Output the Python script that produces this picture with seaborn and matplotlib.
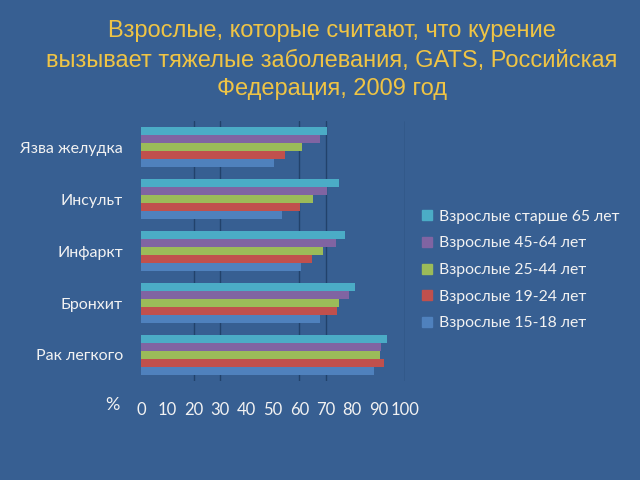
import matplotlib
matplotlib.use("Agg")
import matplotlib.pyplot as plt
from matplotlib.lines import Line2D
import seaborn as sns
import pandas as pd

categories = ["Язва желудка", "Инсульт", "Инфаркт", "Бронхит", "Рак легкого"]
groups = ["Взрослые старше 65 лет", "Взрослые 45-64 лет", "Взрослые 25-44 лет",
          "Взрослые 19-24 лет", "Взрослые 15-18 лет"]
v_65plus = [70.3, 75.1, 77.4, 81.0, 93.0]
v_45_64 = [67.8, 70.3, 73.9, 78.8, 90.8]
v_25_44 = [61.0, 65.0, 69.0, 74.9, 90.7]
v_19_24 = [54.7, 60.4, 64.6, 74.2, 92.2]
v_15_18 = [50.5, 53.4, 60.5, 67.7, 88.4]
x_ticks = [0, 10, 20, 30, 40, 50, 60, 70, 80, 90, 100]
grid_at = [20, 30, 60, 70, 100]

colors = ["#4bacc6", "#8064a2", "#9bbb59", "#c0504d", "#4f81bd"]
bg = "#375f92"
txt = "#f2f2f2"

series = [v_65plus, v_45_64, v_25_44, v_19_24, v_15_18]
rows = []
for g, vals in zip(groups, series):
    for c, v in zip(categories, vals):
        rows.append({"cat": c, "grp": g, "val": v})
df = pd.DataFrame(rows)

sns.set_theme(style="white")
plt.rcParams["font.family"] = ["Lato", "DejaVu Sans"]

fig = plt.figure(figsize=(6.4, 4.8), dpi=100)
fig.patch.set_facecolor(bg)
ax = fig.add_axes([141/640, 1-381/480, 264/640, 260/480])
ax.set_facecolor(bg)

for gx in grid_at:
    ax.axvline(gx, color="#22426b", lw=1.0, zorder=0)

sns.barplot(data=df, y="cat", x="val", hue="grp", order=categories,
            hue_order=groups, palette=colors, orient="h", width=0.76,
            saturation=1, ax=ax, legend=False, zorder=2, linewidth=0)

ax.set_xlim(0, 100)
ax.set_xticks(x_ticks)
ax.set_xticklabels([str(t) for t in x_ticks])
ax.set_xlabel("")
ax.set_ylabel("")
for s in ax.spines.values():
    s.set_visible(False)
ax.tick_params(axis="x", length=0, pad=15, labelsize=12, colors=txt)
ax.tick_params(axis="y", length=0, pad=13, labelsize=11.5, colors=txt)
ax.set_yticks([i + 0.5 for i in range(len(categories) - 1)], minor=True)
ax.tick_params(axis="y", which="minor", length=4, color="#22426b", width=1)

fig.text(112/640, 1-405/480, "%", color=txt, fontsize=13, ha="center", va="center")

handles = [Line2D([], [], marker="s", linestyle="none", markersize=7,
                  markerfacecolor=c, markeredgecolor=c) for c in colors]
leg = fig.legend(handles, groups, loc="center left",
                 bbox_to_anchor=(0.657, 1-270/480), bbox_transform=fig.transFigure,
                 frameon=False, fontsize=11.3, labelcolor=txt, handlelength=0.8,
                 handletextpad=0.4, labelspacing=0.8, borderpad=0, borderaxespad=0)

title_lines = ["Взрослые, которые считают, что курение",
               "вызывает тяжелые заболевания, GATS, Российская",
               "Федерация, 2009 год"]
for line, yb in zip(title_lines, [37, 66.5, 95]):
    fig.text(332/640, 1-yb/480, line, color="#efc445", fontsize=17,
             ha="center", va="baseline", family=["Liberation Sans", "DejaVu Sans"])

fig.savefig("out.png", dpi=100, facecolor=bg)
